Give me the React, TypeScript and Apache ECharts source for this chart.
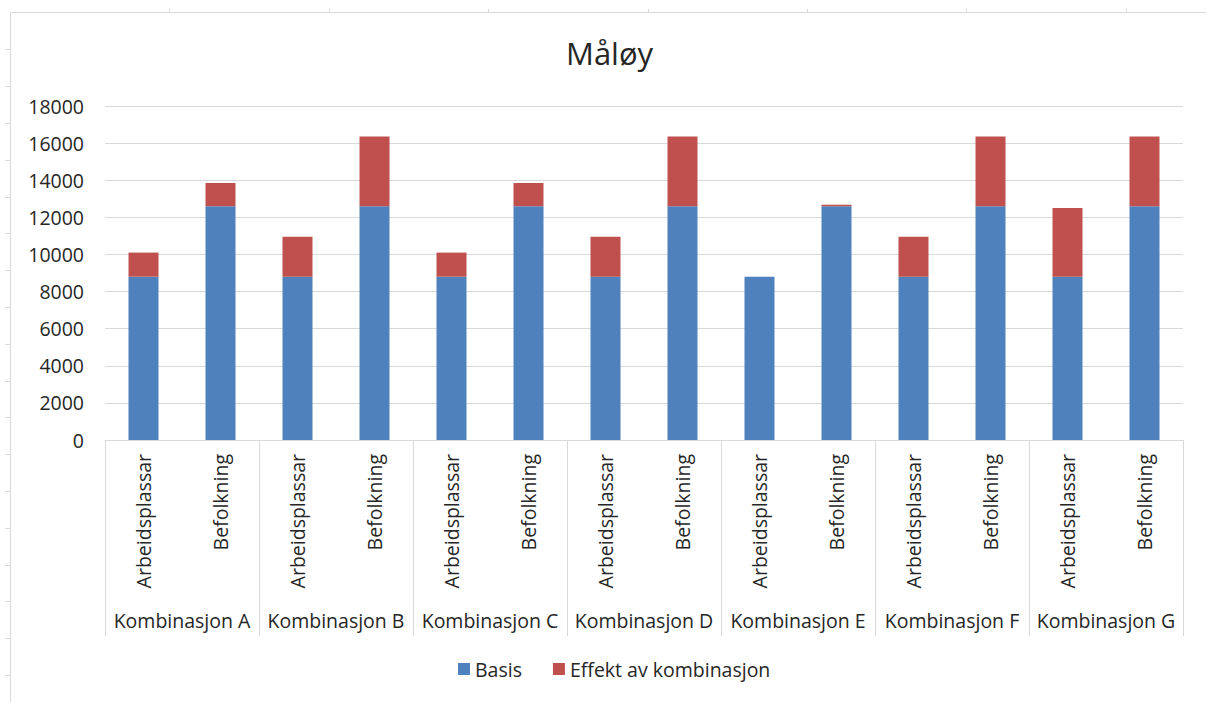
import React, { useEffect, useRef } from "react";
import * as echarts from "echarts";

const groups = ["Kombinasjon A", "Kombinasjon B", "Kombinasjon C", "Kombinasjon D", "Kombinasjon E", "Kombinasjon F", "Kombinasjon G"];
const subCategories = ["Arbeidsplassar", "Befolkning"];
const basisValues = [8800, 12600, 8800, 12600, 8800, 12600, 8800, 12600, 8800, 12600, 8800, 12600, 8800, 12600];
const effektValues = [1300, 1250, 2150, 3750, 1300, 1250, 2150, 3750, 0, 80, 2150, 3750, 3700, 3750];
const yTicks = [0, 2000, 4000, 6000, 8000, 10000, 12000, 14000, 16000, 18000];

const FONT = "'Open Sans', 'Noto Sans', sans-serif";
const TEXT = "#262626";
const LINE = "#d9d9d9";
const FS = 19.5;

export default function App() {
  const ref = useRef<HTMLDivElement>(null);
  useEffect(() => {
    if (!ref.current) return;
    const chart = echarts.init(ref.current, null, { renderer: "svg" });
    const categories: string[] = [];
    groups.forEach(() => subCategories.forEach((s) => categories.push(s)));

    // spreadsheet frame behind the chart
    const frame: any[] = [];
    frame.push({ type: "line", shape: { x1: 10.5, y1: 12.5, x2: 1206, y2: 12.5 }, style: { stroke: LINE, lineWidth: 1 }, silent: true });
    frame.push({ type: "line", shape: { x1: 10.5, y1: 12.5, x2: 10.5, y2: 702 }, style: { stroke: LINE, lineWidth: 1 }, silent: true });
    for (let k = 1; k < 8; k++) {
      const x = Math.round(10 + 159.4 * k) + 0.5;
      frame.push({ type: "line", shape: { x1: x, y1: 9, x2: x, y2: 12.5 }, style: { stroke: LINE, lineWidth: 1 }, silent: true });
    }
    for (let k = 1; k < 19; k++) {
      const y = Math.round(12.5 + 36.8 * k) + 0.5;
      frame.push({ type: "line", shape: { x1: 5, y1: y, x2: 10.5, y2: y }, style: { stroke: LINE, lineWidth: 1 }, silent: true });
    }

    chart.setOption({
      animation: false,
      backgroundColor: "#ffffff",
      title: {
        text: "Måløy",
        left: 566,
        top: 37,
        padding: 0,
        textStyle: { fontFamily: FONT, fontSize: 31, fontWeight: "normal", color: TEXT },
      },
      legend: {
        bottom: 23,
        left: 458,
        padding: 0,
        itemWidth: 12,
        itemHeight: 12,
        itemGap: 31,
        icon: "rect",
        textStyle: { fontFamily: FONT, fontSize: FS, color: TEXT },
        data: ["Basis", "Effekt av kombinasjon"],
      },
      grid: { left: 105, right: 23, top: 106, bottom: 262, containLabel: false },
      xAxis: [
        {
          type: "category",
          data: categories,
          position: "bottom",
          axisLine: { show: true, lineStyle: { color: LINE, width: 1 } },
          axisTick: { show: false },
          axisLabel: { interval: 0, rotate: 90, margin: 14, fontFamily: FONT, fontSize: FS, color: TEXT },
        },
        {
          type: "category",
          data: groups,
          position: "bottom",
          axisLine: { show: false },
          axisTick: { show: true, length: 196, lineStyle: { color: LINE, width: 1 } },
          axisLabel: { interval: 0, margin: 170, fontFamily: FONT, fontSize: FS, color: TEXT },
        },
      ],
      yAxis: {
        type: "value",
        min: 0,
        max: 18000,
        interval: 2000,
        axisLine: { show: false },
        axisTick: { show: false },
        axisLabel: { margin: 21, fontFamily: FONT, fontSize: FS, color: TEXT, formatter: (v: number) => (yTicks.includes(v) ? String(v) : "") },
        splitLine: { show: true, lineStyle: { color: LINE, width: 1 } },
      },
      series: [
        {
          name: "Basis",
          type: "bar",
          stack: "total",
          xAxisIndex: 0,
          data: basisValues,
          barWidth: 30,
          itemStyle: { color: "#4F81BD" },
        },
        {
          name: "Effekt av kombinasjon",
          type: "bar",
          stack: "total",
          xAxisIndex: 0,
          data: effektValues,
          barWidth: 30,
          itemStyle: { color: "#C0504D" },
        },
      ],
      graphic: { elements: frame },
    });
    return () => chart.dispose();
  }, []);
  return <div ref={ref} style={{ position: "fixed", left: 0, top: 0, width: 1206, height: 702 }} />;
}
